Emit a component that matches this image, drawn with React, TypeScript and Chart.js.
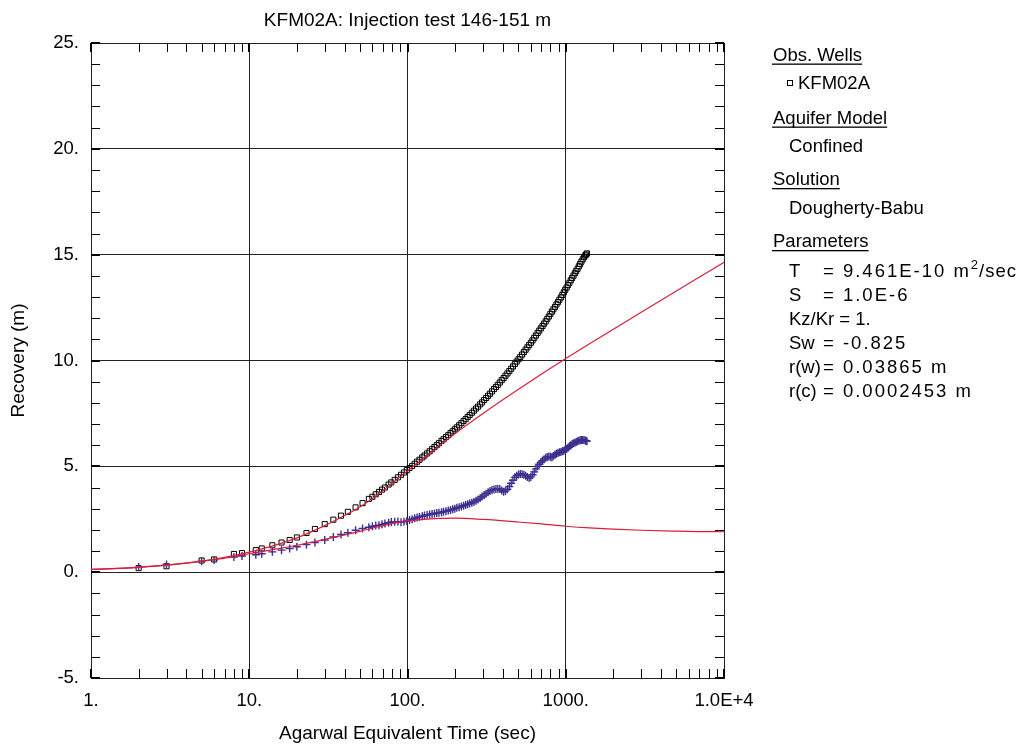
import React, { useEffect, useRef } from 'react';
import { Chart, registerables } from 'chart.js';

Chart.register(...registerables);

const FONT = "'Liberation Sans', Arial, Helvetica, sans-serif";
const RED = '#d81e3c';
const BLUE = '#3d2f8e';

// Observed data (Agarwal equivalent time, sec)
const times = [
  2, 3, 5, 6, 8, 9, 11, 12, 14, 16, 18, 20, 23, 26, 30, 34, 38, 42, 47, 52, 57, 60, 63, 66, 69,
  72, 76, 79, 83, 87, 91, 95, 99, 103, 107, 111, 115, 119, 124, 128, 133, 138, 143, 148, 153,
  158, 164, 169, 175, 181, 187, 193, 199, 205, 212, 219, 226, 233, 240, 247, 255, 263, 271, 279,
  288, 296, 305, 314, 323, 332, 342, 352, 362, 372, 383, 394, 405, 416, 428, 440, 452, 464, 477,
  490, 503, 516, 530, 544, 558, 572, 587, 602, 617, 632, 648, 664, 680, 696, 713, 730, 747, 764,
  782, 800, 818, 836, 855, 874, 893, 912, 932, 952, 972, 992, 1013, 1034, 1055, 1076, 1098, 1120,
  1142, 1164, 1187, 1210, 1233, 1256, 1280, 1304, 1328, 1345, 1362,
];

// Recovery (m) – KFM02A
const recovery = [
  0.19, 0.28, 0.55, 0.6, 0.86, 0.9, 1.04, 1.12, 1.27, 1.4, 1.52, 1.64, 1.85, 2.04, 2.27, 2.48,
  2.67, 2.85, 3.06, 3.26, 3.46, 3.56, 3.68, 3.79, 3.9, 4.0, 4.14, 4.24, 4.36, 4.48, 4.6, 4.71,
  4.82, 4.92, 5.02, 5.12, 5.22, 5.31, 5.42, 5.51, 5.61, 5.71, 5.81, 5.91, 6.0, 6.09, 6.2, 6.28,
  6.38, 6.47, 6.57, 6.66, 6.75, 6.84, 6.94, 7.04, 7.14, 7.23, 7.33, 7.42, 7.53, 7.63, 7.73, 7.82,
  7.93, 8.02, 8.13, 8.23, 8.33, 8.43, 8.54, 8.65, 8.75, 8.85, 8.96, 9.07, 9.17, 9.28, 9.39, 9.5,
  9.61, 9.72, 9.84, 9.95, 10.06, 10.17, 10.28, 10.4, 10.51, 10.62, 10.73, 10.84, 10.95, 11.07,
  11.18, 11.3, 11.41, 11.52, 11.63, 11.74, 11.85, 11.97, 12.08, 12.2, 12.31, 12.42, 12.53, 12.65,
  12.76, 12.87, 12.98, 13.1, 13.22, 13.34, 13.45, 13.56, 13.67, 13.79, 13.9, 14.01, 14.12, 14.22,
  14.33, 14.45, 14.56, 14.67, 14.78, 14.88, 14.96, 15.01, 15.06,
];

// Derivative (m)
const derivative = [
  0.24, 0.36, 0.52, 0.58, 0.72, 0.76, 0.82, 0.87, 0.96, 1.04, 1.12, 1.2, 1.3, 1.4, 1.52, 1.66,
  1.78, 1.86, 1.98, 2.06, 2.12, 2.17, 2.2, 2.22, 2.26, 2.3, 2.34, 2.37, 2.38, 2.39, 2.36, 2.38,
  2.42, 2.47, 2.5, 2.55, 2.58, 2.61, 2.64, 2.68, 2.7, 2.73, 2.75, 2.77, 2.79, 2.81, 2.83, 2.86,
  2.88, 2.91, 2.94, 2.97, 3.0, 3.04, 3.07, 3.1, 3.14, 3.17, 3.21, 3.24, 3.28, 3.32, 3.37, 3.43,
  3.5, 3.57, 3.64, 3.71, 3.78, 3.84, 3.88, 3.91, 3.93, 3.94, 3.93, 3.86, 3.8, 3.84, 3.92, 4.05,
  4.2, 4.34, 4.48, 4.56, 4.62, 4.64, 4.63, 4.6, 4.55, 4.5, 4.45, 4.5, 4.6, 4.74, 4.88, 5.0, 5.1,
  5.19, 5.27, 5.34, 5.4, 5.44, 5.46, 5.45, 5.42, 5.49, 5.56, 5.6, 5.63, 5.66, 5.68, 5.71, 5.74,
  5.78, 5.82, 5.88, 5.95, 6.0, 6.05, 6.09, 6.12, 6.15, 6.18, 6.21, 6.23, 6.24, 6.25, 6.24, 6.22,
  6.2, 6.19,
];

// Dougherty-Babu solution
const modelTimes = [
  1, 1.5, 2, 3, 5, 7, 10, 15, 20, 30, 40, 50, 70, 100, 150, 200, 300, 500, 700, 1000, 1500,
  2000, 3000, 5000, 7000, 10000,
];
const modelRecovery = [
  0.13, 0.18, 0.23, 0.33, 0.52, 0.7, 0.95, 1.3, 1.62, 2.2, 2.68, 3.08, 3.85, 4.78, 5.82, 6.55,
  7.5, 8.63, 9.35, 10.09, 10.91, 11.48, 12.28, 13.28, 13.94, 14.64,
];
const modelDerivative = [
  0.13, 0.18, 0.23, 0.33, 0.51, 0.66, 0.87, 1.1, 1.27, 1.55, 1.76, 1.93, 2.2, 2.42, 2.53, 2.55,
  2.49, 2.37, 2.28, 2.17, 2.08, 2.03, 1.98, 1.94, 1.92, 1.91,
];

const xTickValues = [1, 10, 100, 1000, 10000];
const xTickLabels = ['1.', '10.', '100.', '1000.', '1.0E+4'];
const yMin = -5;
const yMax = 25;
const yStep = 5;

const legendHeadings = ['Obs. Wells', 'Aquifer Model', 'Solution', 'Parameters'];
const wellName = 'KFM02A';
const aquiferModel = 'Confined';
const solutionName = 'Dougherty-Babu';
const paramNames = ['T', 'S', 'Kz/Kr = 1.', 'Sw', 'r(w)', 'r(c)'];
const paramValues = ['= 9.461E-10 m', '= 1.0E-6', '', '= -0.825', '= 0.03865 m', '= 0.0002453 m'];

const decorPlugin = {
  id: 'decor',
  afterDraw(chart: any) {
    const ctx = chart.ctx as CanvasRenderingContext2D;
    const { left, right, top, bottom } = chart.chartArea;
    const xs = chart.scales.x;
    const ys = chart.scales.y;
    const L = 9;
    ctx.save();
    ctx.strokeStyle = '#000';
    // y ticks
    for (let v = yMin; v <= yMax; v++) {
      const major = v % yStep === 0;
      const py = Math.round(ys.getPixelForValue(v));
      ctx.lineWidth = major ? 2 : 1;
      const yy = major ? py : py + 0.5;
      ctx.beginPath();
      ctx.moveTo(left, yy);
      ctx.lineTo(left + L, yy);
      ctx.moveTo(right - L, yy);
      ctx.lineTo(right, yy);
      ctx.stroke();
    }
    // x ticks
    for (let d = 1; d <= 10000; d *= 10) {
      for (let m = 1; m <= 9; m++) {
        const v = d * m;
        if (v > 10000) break;
        const major = m === 1;
        const px = Math.round(xs.getPixelForValue(v));
        ctx.lineWidth = major ? 2 : 1;
        const xx = major ? px : px + 0.5;
        ctx.beginPath();
        ctx.moveTo(xx, top);
        ctx.lineTo(xx, top + L);
        ctx.moveTo(xx, bottom - L);
        ctx.lineTo(xx, bottom);
        ctx.stroke();
      }
    }

    // legend panel
    ctx.fillStyle = '#000';
    ctx.textBaseline = 'alphabetic';
    ctx.textAlign = 'left';
    const big = `18.5px ${FONT}`;
    ctx.font = big;
    const hx = 773;
    const ix = 789;
    const headY = [60.5, 123.5, 185, 247];
    legendHeadings.forEach((h, i) => {
      ctx.fillText(h, hx, headY[i]);
      const w = ctx.measureText(h).width;
      ctx.fillRect(hx - 1, headY[i] + 3, w + 1, 1.3);
    });
    // well marker
    ctx.lineWidth = 1;
    ctx.strokeRect(787.5, 80.5, 5, 5);
    ctx.fillText(wellName, 798, 89);
    ctx.fillText(aquiferModel, ix, 152);
    ctx.fillText(solutionName, ix, 214);
    paramNames.forEach((n, i) => {
      const y = 277 + i * 24;
      ctx.font = big;
      (ctx as any).letterSpacing = '0px';
      ctx.fillText(n, ix, y);
      const val = paramValues[i];
      if (val) {
        (ctx as any).letterSpacing = '2px';
        ctx.fillText(val, 823, y);
        if (i === 0) {
          let x = 823 + ctx.measureText(val).width;
          (ctx as any).letterSpacing = '0px';
          ctx.font = `13px ${FONT}`;
          ctx.fillText('2', x, y - 8);
          x += ctx.measureText('2').width + 1;
          ctx.font = big;
          (ctx as any).letterSpacing = '1px';
          ctx.fillText('/sec', x, y);
        }
        (ctx as any).letterSpacing = '0px';
      }
    });
    ctx.restore();
  },
};

export default function App() {
  const canvasRef = useRef<HTMLCanvasElement | null>(null);

  useEffect(() => {
    if (!canvasRef.current) return;
    const tickFont = { family: FONT, size: 18.5, weight: 'normal' as const };
    const titleFont = { family: FONT, size: 19, weight: 'normal' as const, lineHeight: 1.2 };
    const chart = new Chart(canvasRef.current, {
      type: 'scatter',
      data: {
        datasets: [
          {
            label: 'Dougherty-Babu recovery',
            data: modelTimes.map((t, i) => ({ x: t, y: modelRecovery[i] })),
            showLine: true,
            borderColor: RED,
            backgroundColor: RED,
            borderWidth: 1.2,
            pointRadius: 0,
            cubicInterpolationMode: 'monotone',
          },
          {
            label: 'Dougherty-Babu derivative',
            data: modelTimes.map((t, i) => ({ x: t, y: modelDerivative[i] })),
            showLine: true,
            borderColor: RED,
            backgroundColor: RED,
            borderWidth: 1.2,
            pointRadius: 0,
            cubicInterpolationMode: 'monotone',
          },
          {
            label: 'KFM02A derivative',
            data: times.map((t, i) => ({ x: t, y: derivative[i] })),
            showLine: false,
            pointStyle: 'cross',
            pointRadius: 4,
            borderColor: BLUE,
            backgroundColor: BLUE,
            borderWidth: 1.4,
          },
          {
            label: 'KFM02A',
            data: times.map((t, i) => ({ x: t, y: recovery[i] })),
            showLine: false,
            pointStyle: 'rect',
            pointRadius: 3.6,
            borderColor: '#000',
            backgroundColor: 'rgba(255,255,255,0)',
            borderWidth: 1,
          },
        ],
      },
      options: {
        animation: false,
        responsive: true,
        maintainAspectRatio: false,
        events: [],
        layout: { padding: { left: 0, top: 0, right: 292, bottom: 0 } },
        plugins: {
          legend: { display: false },
          tooltip: { enabled: false },
          title: {
            display: true,
            text: 'KFM02A: Injection test 146-151 m',
            fullSize: false,
            color: '#000',
            font: titleFont,
            padding: { top: 9.6, bottom: 10.6 },
          },
        },
        scales: {
          x: {
            type: 'logarithmic',
            position: 'bottom',
            min: 1,
            max: 10000,
            afterFit: (s: any) => {
              s.height = 67;
            },
            afterBuildTicks: (s: any) => {
              s.ticks = xTickValues.map((v) => ({ value: v }));
            },
            ticks: {
              autoSkip: false,
              maxRotation: 0,
              padding: 12,
              color: '#000',
              font: tickFont,
              callback: (_v: any, i: number) => xTickLabels[i],
            },
            grid: { color: '#222', lineWidth: 1, drawTicks: false },
            border: { color: '#222', width: 1 },
            title: {
              display: true,
              text: 'Agarwal Equivalent Time (sec)',
              color: '#000',
              font: titleFont,
              padding: { top: 0, bottom: 0 },
            },
          },
          y: {
            type: 'linear',
            position: 'left',
            min: yMin,
            max: yMax,
            afterFit: (s: any) => {
              s.width = 91;
            },
            ticks: {
              stepSize: yStep,
              padding: 12,
              color: '#000',
              font: tickFont,
              callback: (v: any) => `${v}.`,
            },
            grid: { color: '#222', lineWidth: 1, drawTicks: false },
            border: { color: '#222', width: 1 },
            title: {
              display: true,
              text: 'Recovery (m)',
              color: '#000',
              font: titleFont,
              padding: { top: 7, bottom: 0 },
            },
          },
        },
      },
      plugins: [decorPlugin],
    } as any);
    return () => chart.destroy();
  }, []);

  return (
    <div style={{ position: 'fixed', left: 0, top: 0, width: 1016, height: 745, background: '#fff' }}>
      <canvas ref={canvasRef} />
    </div>
  );
}
